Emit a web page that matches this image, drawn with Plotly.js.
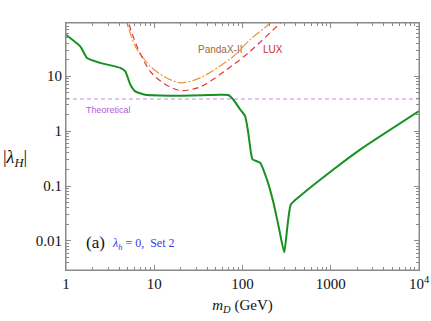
<!DOCTYPE html>
<html>
<head>
<meta charset="utf-8">
<script src="https://cdn.plot.ly/plotly-3.0.1.min.js"></script>
<style>
  html, body { margin: 0; padding: 0; background: #fff; }
  #chart { width: 431px; height: 321px; }
</style>
</head>
<body>
<div id="chart"></div>
<script>
// Green curve: |lambda_H| bound vs m_D (GeV)
const greenMass = [1, 1.45, 1.73, 2.44, 4.12, 4.7, 5.35, 6.1, 7.9, 12, 20, 35, 55, 68.9, 78.5, 94.2, 107, 116, 124.5, 130, 158.6, 189, 224, 256, 297, 323, 353, 450, 1072, 2153, 10000];
const greenLambda = [57, 35, 21.5, 17.5, 14.2, 12.3, 7.1, 5.3, 4.6, 4.45, 4.4, 4.5, 4.6, 4.55, 3.77, 2.48, 1.87, 0.95, 0.41, 0.305, 0.266, 0.132, 0.05, 0.0187, 0.0062, 0.0187, 0.046, 0.066, 0.2, 0.46, 2.31];

// PandaX-II limit
const pandaMass = [4.6, 4.91, 6.1, 9.0, 13, 19.7, 33.2, 79, 122, 206, 230];
const pandaLambda = [130, 93.5, 35, 15.2, 9.8, 7.6, 9.35, 23.1, 46.4, 93.5, 115];

// LUX limit
const luxMass = [4.8, 5.12, 6.37, 9.0, 13, 19.7, 33.2, 79, 122, 267, 300];
const luxLambda = [130, 93.5, 35, 12.3, 7.3, 5.5, 6.4, 16.3, 28.5, 93.5, 115];

// Theoretical bound
const theoMass = [1, 10000];
const theoLambda = [3.85, 3.85];

const xTickVals = [1, 10, 100, 1000, 10000];
const xTickText = ["1", "10", "100", "1000", "10<sup>4</sup>"];
const yTickVals = [0.01, 0.1, 1, 10];
const yTickText = ["0.01", "0.1", "1", "10"];
const xMinorVals = [2, 3, 4, 5, 6, 7, 8, 9, 20, 30, 40, 50, 60, 70, 80, 90, 200, 300, 400, 500, 600, 700, 800, 900, 2000, 3000, 4000, 5000, 6000, 7000, 8000, 9000];
const yMinorVals = [0.004, 0.005, 0.006, 0.007, 0.008, 0.009, 0.02, 0.03, 0.04, 0.05, 0.06, 0.07, 0.08, 0.09, 0.2, 0.3, 0.4, 0.5, 0.6, 0.7, 0.8, 0.9, 2, 3, 4, 5, 6, 7, 8, 9, 20, 30, 40, 50, 60, 70, 80, 90];

const serif = "Liberation Serif";
const sans = "Liberation Sans";
const xRange = [0, 4];
const yRange = [-2.53, 1.97];
const frameColor = "#8a8a8a";

const traces = [
  {
    x: theoMass, y: theoLambda, type: "scatter", mode: "lines",
    line: { color: "#cc8ae6", width: 1.2, dash: "4px,3px" },
  },
  {
    x: pandaMass, y: pandaLambda, type: "scatter", mode: "lines",
    line: { color: "#e8963c", width: 1.2, dash: "9px,2px,2px,2px", shape: "spline", smoothing: 0.8 },
  },
  {
    x: luxMass, y: luxLambda, type: "scatter", mode: "lines",
    line: { color: "#e8353a", width: 1.2, dash: "6px,4px", shape: "spline", smoothing: 0.8 },
  },
  {
    x: greenMass, y: greenLambda, type: "scatter", mode: "lines",
    line: { color: "#17911f", width: 2, shape: "spline", smoothing: 0.5 },
  },
  // carrier for the minor-tick axes
  { x: [1], y: [1], xaxis: "x2", yaxis: "y2", type: "scatter", mode: "markers",
    marker: { opacity: 0 }, hoverinfo: "skip" },
];

const axisCommon = {
  type: "log",
  showgrid: false,
  zeroline: false,
  showline: true,
  linecolor: frameColor,
  linewidth: 1,
  mirror: "ticks",
  ticks: "inside",
  ticklen: 5,
  tickwidth: 1,
  tickcolor: frameColor,
  tickfont: { family: serif, size: 15, color: "#111" },
};

const minorCommon = {
  type: "log",
  showgrid: false,
  zeroline: false,
  showline: false,
  mirror: "ticks",
  ticks: "inside",
  ticklen: 3,
  tickwidth: 1,
  tickcolor: frameColor,
  showticklabels: false,
};

const layout = {
  width: 431,
  height: 321,
  margin: { l: 66, r: 12, t: 23, b: 51 },
  paper_bgcolor: "#fff",
  plot_bgcolor: "#fff",
  showlegend: false,
  xaxis: Object.assign({}, axisCommon, {
    range: xRange,
    tickvals: xTickVals,
    ticktext: xTickText,
    title: { text: "<i>m<sub>D</sub></i> (GeV)", font: { family: serif, size: 15, color: "#111" }, standoff: 8 },
  }),
  yaxis: Object.assign({}, axisCommon, {
    range: yRange,
    tickvals: yTickVals,
    ticktext: yTickText,
  }),
  xaxis2: Object.assign({}, minorCommon, { range: xRange, tickvals: xMinorVals, overlaying: "x", anchor: "y2", side: "bottom" }),
  yaxis2: Object.assign({}, minorCommon, { range: yRange, tickvals: yMinorVals, overlaying: "y", anchor: "x2", side: "left" }),
  shapes: [
    { type: "rect", xref: "paper", yref: "paper", x0: 0, x1: 1, y0: 0, y1: 1,
      line: { color: frameColor, width: 1 }, fillcolor: "rgba(0,0,0,0)", layer: "above" },
  ],
  annotations: [
    { x: -0.185, y: 0.45, xref: "paper", yref: "paper", xanchor: "left", text: "|<i>λ<sub>H</sub></i>|", showarrow: false,
      font: { family: serif, size: 18, color: "#111" } },
    { x: Math.log10(1.6), y: Math.log10(3.3), xref: "x", yref: "y", text: "Theoretical", showarrow: false,
      xanchor: "left", yanchor: "top", font: { family: sans, size: 9, color: "#b45adc" } },
    { x: Math.log10(55), y: Math.log10(31), xref: "x", yref: "y", text: "PandaX-II", showarrow: false,
      font: { family: sans, size: 10, color: "#a0683a" } },
    { x: Math.log10(220), y: Math.log10(31), xref: "x", yref: "y", text: "LUX", showarrow: false,
      font: { family: sans, size: 10, color: "#d22a2a" } },
    { x: 0.05, y: 0.065, xref: "paper", yref: "paper", text: "(a)", showarrow: false,
      xanchor: "left", font: { family: serif, size: 17, color: "#111" } },
    { x: 0.125, y: 0.065, xref: "paper", yref: "paper", text: "<i>λ<sub>h</sub></i> = 0,  Set 2", showarrow: false,
      xanchor: "left", font: { family: serif, size: 12, color: "#3a3ae8" } },
  ],
};

Plotly.newPlot("chart", traces, layout, { displayModeBar: false, staticPlot: true });
</script>
</body>
</html>
